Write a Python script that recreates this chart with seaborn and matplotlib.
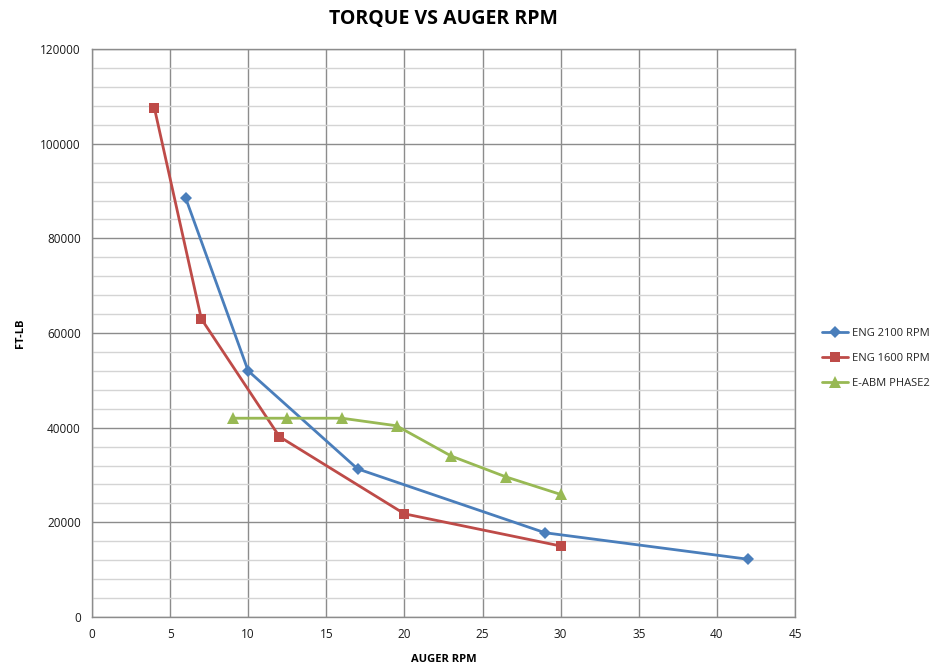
import pandas as pd
import numpy as np
import matplotlib
matplotlib.use("Agg")
import matplotlib.pyplot as plt
import seaborn as sns
from matplotlib.ticker import MultipleLocator

# Data
rpm_2100 = [6, 10, 17, 29, 42]
torque_2100 = [88500, 52000, 31300, 17800, 12200]

rpm_1600 = [4, 7, 12, 20, 30]
torque_1600 = [107500, 63000, 38100, 21800, 15000]

rpm_eabm = [9, 12.5, 16, 19.5, 23, 26.5, 30]
torque_eabm = [42000, 42000, 42000, 40400, 34000, 29600, 25900]

series_names = ["ENG 2100 RPM", "ENG 1600 RPM", "E-ABM PHASE2"]

# Long-form table for seaborn
df = pd.concat([
    pd.DataFrame({"rpm": rpm_2100, "torque": torque_2100, "series": series_names[0]}),
    pd.DataFrame({"rpm": rpm_1600, "torque": torque_1600, "series": series_names[1]}),
    pd.DataFrame({"rpm": rpm_eabm, "torque": torque_eabm, "series": series_names[2]}),
], ignore_index=True)

palette = dict(zip(series_names, ["#4A7EBB", "#BE4B48", "#98B954"]))
markers = dict(zip(series_names, ["D", "s", "^"]))
sizes = {"ENG 2100 RPM": 6, "ENG 1600 RPM": 7, "E-ABM PHASE2": 8}

sns.set_style("white")
plt.rcParams['font.family'] = ['Open Sans', 'DejaVu Sans']

fig = plt.figure(figsize=(9.5, 6.63), dpi=100)
ax = fig.add_axes([0.0968, 0.0694, 0.740, 0.8566])

for name in series_names:
    sns.lineplot(data=df[df["series"] == name], x="rpm", y="torque",
                 color=palette[name], marker=markers[name], markersize=sizes[name],
                 markeredgewidth=0, linewidth=2, label=name, ax=ax)

ax.set_xlim(0, 45)
ax.set_ylim(0, 120000)
ax.xaxis.set_major_locator(MultipleLocator(5))
ax.yaxis.set_major_locator(MultipleLocator(20000))
ax.yaxis.set_minor_locator(MultipleLocator(4000))

ax.grid(which="major", color="#8C8C8C", linewidth=1)
ax.grid(which="minor", axis="y", color="#D4D4D4", linewidth=1)
ax.set_axisbelow(True)

for sp in ax.spines.values():
    sp.set_color("#8C8C8C")
    sp.set_linewidth(1)

ax.tick_params(axis="both", which="major", direction="out", length=4, width=1,
               color="#8C8C8C", labelsize=8.5, labelcolor="#1a1a1a", pad=4)
ax.tick_params(axis="y", which="minor", length=0)

ax.set_title("TORQUE VS AUGER RPM", fontsize=14, fontweight="bold", pad=18, color="black")
ax.set_xlabel("AUGER RPM", fontsize=8, fontweight="bold", labelpad=9, color="black")
ax.set_ylabel("FT-LB", fontsize=8, fontweight="bold", labelpad=10, color="black")

ax.legend(loc="center left", bbox_to_anchor=(1.024, 0.455), frameon=False,
          fontsize=8, handlelength=2.4, handletextpad=0.3, labelspacing=1.25)

fig.savefig("out.png", dpi=100)
plt.close(fig)
